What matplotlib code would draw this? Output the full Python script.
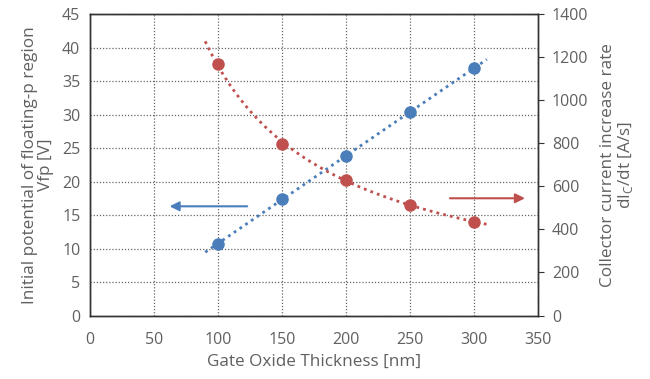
import numpy as np
import matplotlib
matplotlib.use("Agg")
import matplotlib.pyplot as plt

plt.rcParams['font.family'] = ['Open Sans', 'DejaVu Sans']

thickness = [100, 150, 200, 250, 300]
vfp = [10.7, 17.4, 23.8, 30.4, 36.9]
didt = [1167, 795, 630, 515, 435]
x_ticks = [0, 50, 100, 150, 200, 250, 300, 350]
left_ticks = [0, 5, 10, 15, 20, 25, 30, 35, 40, 45]
right_ticks = [0, 200, 400, 600, 800, 1000, 1200, 1400]

blue = '#4a7ebb'
red = '#c0504d'
txt = '#606060'

fig = plt.figure(figsize=(6.5, 3.79), dpi=100)
ax = fig.add_axes([0.1385, 0.1675, 0.6892, 0.7955])
ax2 = ax.twinx()

ax.set_xlim(0, 350)
ax.set_ylim(0, 45)
ax2.set_ylim(0, 1400)
ax.set_xticks(x_ticks)
ax.set_yticks(left_ticks)
ax2.set_yticks(right_ticks)

ax.grid(True, color='#666666', linestyle=(0, (1, 1.5)), linewidth=0.9)
ax.set_axisbelow(True)

# trendlines
xt = np.linspace(90, 310, 100)
pb = np.polyfit(thickness, vfp, 1)
ax.plot(xt, np.polyval(pb, xt), linestyle=(0, (1, 1.5)), color=blue, linewidth=2)
pr = np.polyfit(np.log(thickness), np.log(didt), 1)
ax2.plot(xt, np.exp(pr[1]) * xt ** pr[0], linestyle=(0, (1, 1.5)), color=red, linewidth=2)

ax.plot(thickness, vfp, 'o', color=blue, markersize=8, zorder=5)
ax2.plot(thickness, didt, 'o', color=red, markersize=8, zorder=5)

# arrows
ax.annotate('', xy=(60, 16.3), xytext=(125, 16.3),
            arrowprops=dict(arrowstyle='-|>', color=blue, lw=1.5, mutation_scale=14))
ax.annotate('', xy=(342, 17.5), xytext=(279, 17.5),
            arrowprops=dict(arrowstyle='-|>', color=red, lw=1.5, mutation_scale=14))

for a in (ax, ax2):
    for s in a.spines.values():
        s.set_color('#333333')
        s.set_linewidth(1.0)
    a.tick_params(colors=txt, labelsize=11.5, length=0, pad=7)
ax.tick_params(axis='x', pad=12)
ax2.tick_params(axis='y', length=4, direction='out', color='#333333', pad=6)

ax.set_xlabel('Gate Oxide Thickness [nm]', color=txt, fontsize=12.3, labelpad=4)
ax.set_ylabel('Initial potential of floating-p region\nVfp [V]', color=txt, fontsize=12.3, labelpad=6, linespacing=1.0)
ax2.set_ylabel('Collector current increase rate\ndI$_\\mathregular{C}$/dt [A/s]', color=txt, fontsize=12.3, labelpad=8, linespacing=1.0)

fig.savefig('out.png', dpi=100)
